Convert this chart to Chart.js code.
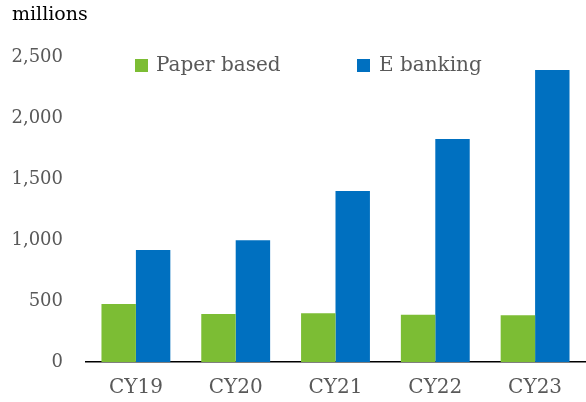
<!DOCTYPE html>
<html>
<head>
<meta charset="utf-8">
<script src="https://cdn.jsdelivr.net/npm/chart.js@4"></script>
<style>
  html, body { margin: 0; padding: 0; background: #ffffff; }
  #wrap { width: 586px; height: 402px; }
</style>
</head>
<body>
<div id="wrap"><canvas id="c" width="586" height="402"></canvas></div>
<script>
const categories = ["CY19", "CY20", "CY21", "CY22", "CY23"];
const paperBased = [475, 393, 399, 388, 383];
const eBanking = [918, 998, 1402, 1828, 2393];
const yTicks = [0, 500, 1000, 1500, 2000, 2500];
const unitLabel = "millions";
const seriesNames = ["Paper based", "E banking"];

const GREEN = "#7CBD34";
const BLUE = "#0070C0";
const GREY = "#595959";
const FONT = "'DejaVu Serif', 'Liberation Serif', serif";

const overlay = {
  id: "overlay",
  afterDraw(chart) {
    const ctx = chart.ctx;
    ctx.save();
    ctx.fillStyle = "#000";
    ctx.font = "19px " + FONT;
    ctx.textBaseline = "middle";
    ctx.textAlign = "left";
    ctx.fillText(unitLabel, 12, 15);
    const pos = [[135, 156], [357, 379]];
    chart.data.datasets.forEach((ds, i) => {
      ctx.fillStyle = ds.backgroundColor;
      ctx.fillRect(pos[i][0], 59, 13, 13);
      ctx.fillStyle = GREY;
      ctx.font = "20px " + FONT;
      ctx.fillText(ds.label, pos[i][1], 66);
    });
    ctx.restore();
  }
};

new Chart(document.getElementById("c"), {
  type: "bar",
  data: {
    labels: categories,
    datasets: [
      { label: seriesNames[0], data: paperBased, backgroundColor: GREEN, categoryPercentage: 0.69, barPercentage: 1.0 },
      { label: seriesNames[1], data: eBanking, backgroundColor: BLUE, categoryPercentage: 0.69, barPercentage: 1.0 }
    ]
  },
  options: {
    responsive: false,
    animation: false,
    layout: { padding: { top: 57, right: 1, left: 0, bottom: 0 } },
    plugins: { legend: { display: false }, tooltip: { enabled: false } },
    scales: {
      x: {
        grid: { display: false, drawTicks: false },
        border: { display: true, color: "#000", width: 1.5 },
        ticks: { color: GREY, font: { family: FONT, size: 20 }, padding: 14 },
        afterFit(s) { s.height = 40; }
      },
      y: {
        min: 0, max: 2500,
        afterBuildTicks(s) { s.ticks = yTicks.map(v => ({ value: v })); },
        grid: { display: false, drawTicks: false },
        border: { display: false },
        ticks: {
          color: GREY, font: { family: FONT, size: 18 }, padding: 23,
          callback: v => v.toLocaleString("en-US")
        },
        afterFit(s) { s.width = 86; }
      }
    }
  },
  plugins: [overlay]
});
</script>
</body>
</html>
